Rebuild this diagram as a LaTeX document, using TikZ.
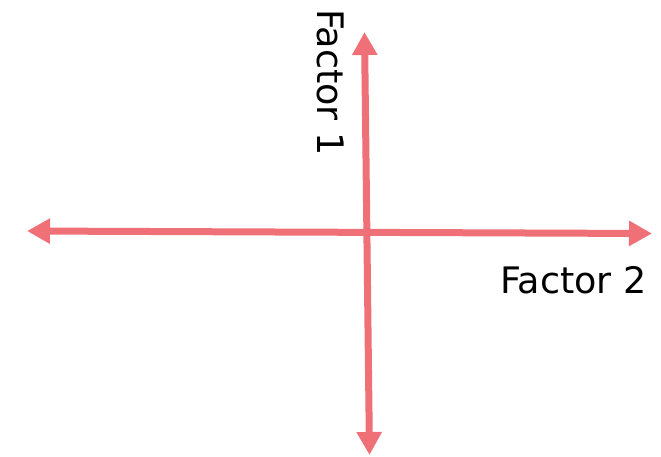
\documentclass[tikz,border=0pt]{standalone}
\usepackage{fontspec}
\setmainfont{DejaVu Sans}
\usetikzlibrary{arrows.meta}
\definecolor{axiscol}{RGB}{240,112,120}
\begin{document}
\begin{tikzpicture}[x=1pt,y=-1pt,
  axis/.style={draw=axiscol,line width=7pt,
    {Triangle[width=24pt,length=23pt]}-{Triangle[width=24pt,length=23pt]}},
  lbl/.style={inner sep=0pt,font=\fontsize{36.5}{40}\selectfont,text=black}]
\useasboundingbox (0,0) rectangle (661,456);
\coordinate (top) at (364.5,32);
\coordinate (bot) at (369.5,455);
\coordinate (lft) at (27,231);
\coordinate (rgt) at (652,233.5);
\draw[axis] (top) -- (bot);
\draw[axis] (lft) -- (rgt);
\node[lbl,rotate=-90,anchor=base west] (f1) at (317,9) {Factor 1};
\node[lbl,anchor=base west] (f2) at (500,293) {Factor 2};
\end{tikzpicture}
\end{document}
